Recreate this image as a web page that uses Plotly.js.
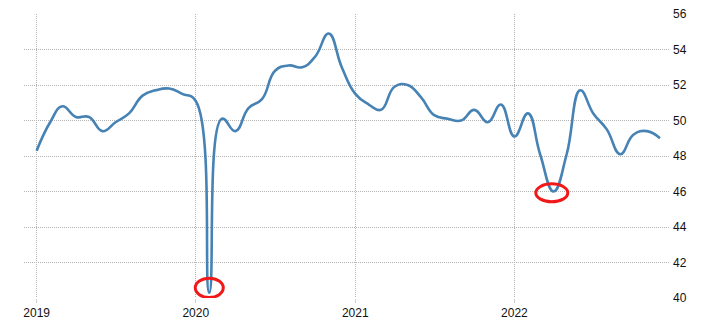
<!DOCTYPE html>
<html>
<head>
<meta charset="utf-8">
<script src="https://cdn.plot.ly/plotly-3.0.1.min.js"></script>
<style>html,body{margin:0;padding:0;background:#fff;}#chart{width:713px;height:330px;}</style>
</head>
<body>
<div id="chart"></div>
<script>
const years = [2019, 2020, 2021, 2022];
const values2019 = [48.3, 49.9, 50.8, 50.2, 50.2, 49.4, 49.9, 50.4, 51.4, 51.7, 51.8, 51.5];
const values2020 = [51.1, 40.3, 50.1, 49.4, 50.7, 51.2, 52.8, 53.1, 53.0, 53.6, 54.9, 53.0];
const values2021 = [51.5, 50.9, 50.6, 51.9, 52.0, 51.3, 50.3, 50.1, 50.0, 50.6, 49.9, 50.9];
const values2022 = [49.1, 50.4, 48.1, 46.0, 48.1, 51.7, 50.4, 49.5, 48.1, 49.2, 49.4, 49.0];
const yTicks = [40, 42, 44, 46, 48, 50, 52, 54, 56];
const xTickLabels = ['2019', '2020', '2021', '2022'];
const highlighted = [{date: '2020-02-01', value: 40.3}, {date: '2022-04-01', value: 46.0}];

const allValues = [values2019, values2020, values2021, values2022];
const dates = [], vals = [];
years.forEach((y, i) => {
  allValues[i].forEach((v, m) => {
    dates.push(y + '-' + String(m + 1).padStart(2, '0') + '-01');
    vals.push(v);
  });
});

const gridColor = '#b4b4b4';
const gridDash = '1px,1px';
const font = {family: 'Liberation Sans, Arial, sans-serif', size: 12, color: '#111'};

const ellipseStyles = [
  {x0: -14, x1: 14, y0: -4.8, y1: 14.5},
  {x0: -17.8, x1: 14.2, y0: -10.3, y1: 7.7}
];
const shapes = highlighted.map((h, i) => ({
  type: 'circle', xref: 'x', yref: 'y',
  xsizemode: 'pixel', ysizemode: 'pixel',
  xanchor: h.date, yanchor: h.value,
  x0: ellipseStyles[i].x0, x1: ellipseStyles[i].x1,
  y0: ellipseStyles[i].y0, y1: ellipseStyles[i].y1,
  line: {color: '#f01818', width: 3}
}));

Plotly.newPlot('chart', [{
  x: dates, y: vals, type: 'scatter', mode: 'lines',
  line: {color: '#4682b4', width: 2.6, shape: 'spline', smoothing: 1.3},
  hoverinfo: 'none'
}], {
  width: 713, height: 330,
  margin: {l: 24, r: 43, t: 14, b: 32},
  paper_bgcolor: '#fff', plot_bgcolor: '#fff',
  showlegend: false,
  font: font,
  xaxis: {
    type: 'date',
    range: ['2018-12-03', '2022-12-24'],
    tickvals: years.map(y => y + '-01-01'),
    ticktext: xTickLabels,
    showgrid: true, gridcolor: gridColor, griddash: gridDash, gridwidth: 1,
    ticks: 'outside', ticklen: 4, tickcolor: '#cccccc', tickwidth: 1,
    showline: false, zeroline: false,
    tickfont: font
  },
  yaxis: {
    side: 'right',
    range: [40, 56],
    tickvals: yTicks,
    ticktext: yTicks.map(String),
    showgrid: true, gridcolor: gridColor, griddash: gridDash, gridwidth: 1,
    ticks: '', ticklabelstandoff: 2,
    showline: false, zeroline: false,
    tickfont: font
  },
  shapes: shapes
}, {staticPlot: true, displayModeBar: false});
</script>
</body>
</html>
